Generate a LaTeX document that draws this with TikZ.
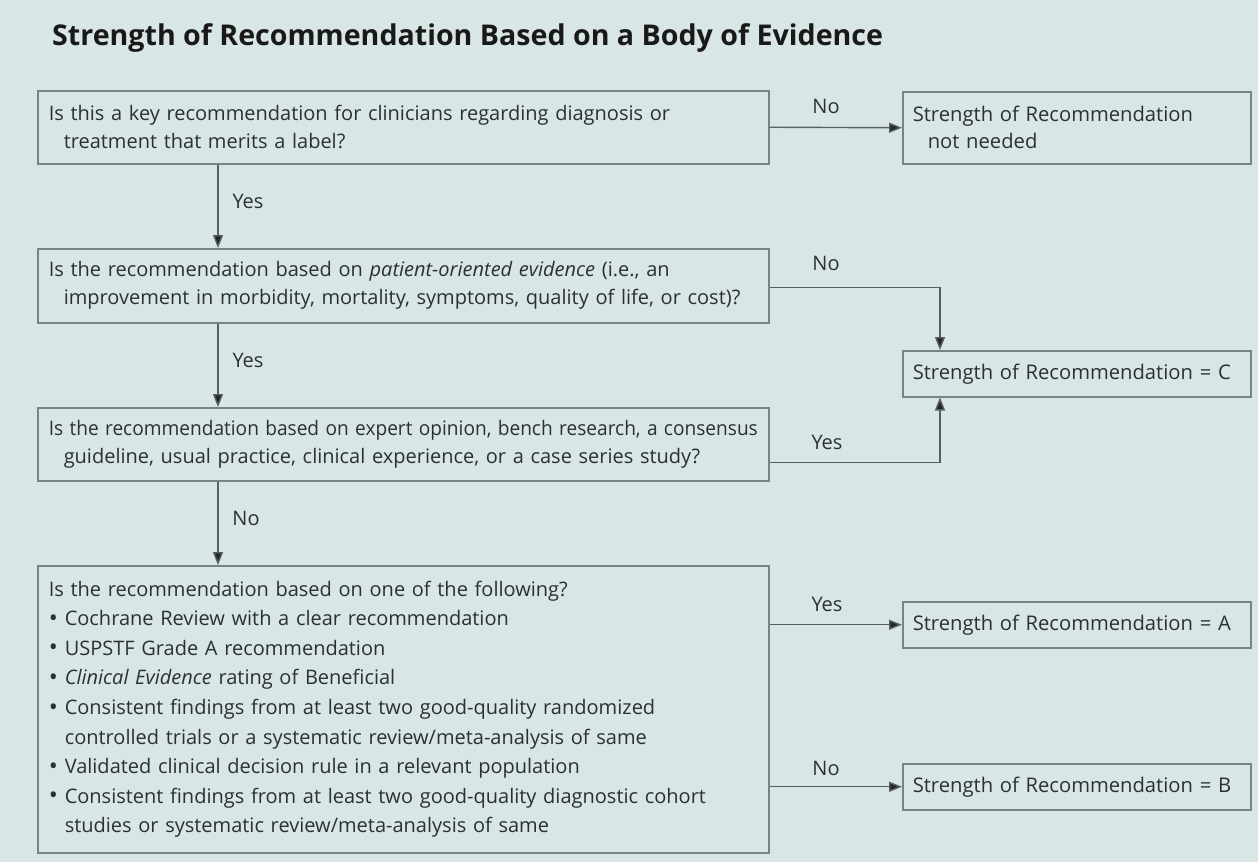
\documentclass[tikz,border=0pt]{standalone}
\usepackage{fontspec}
\usepackage{graphicx}
\setmainfont{Open Sans}
\usetikzlibrary{arrows.meta}
\definecolor{bgc}{HTML}{D9E6E6}
\definecolor{boxc}{HTML}{758485}
\definecolor{linec}{HTML}{56615F}
\definecolor{txtc}{HTML}{2C3031}
\tikzset{
  qbox/.style={draw=boxc, line width=1.5pt, anchor=north west, inner xsep=11pt,
    inner ysep=0pt, align=left, text width=709pt, text=txtc,
    font=\fontsize{20}{28}\selectfont},
  rbox/.style={draw=boxc, line width=1.5pt, anchor=north west, inner xsep=10pt,
    inner ysep=0pt, align=left, text width=328pt, text=txtc,
    font=\fontsize{20.2}{27}\selectfont},
  arr/.style={draw=linec, line width=1.4pt, -{Triangle[length=13pt,width=10pt,fill=black!85]}},
  lab/.style={text=txtc, font=\fontsize{20}{22}\selectfont, inner sep=0pt},
}
\newcommand{\ind}{\hspace*{15pt}}
\newcommand{\bul}{\makebox[16pt][l]{\raisebox{-0.6pt}{\fontsize{24}{0}\selectfont •}}}
\newcommand{\bulind}{\hspace*{16pt}}
\begin{document}
\begin{tikzpicture}[x=1pt,y=-1pt]
\fill[bgc] (0,0) rectangle (1258,862);
\useasboundingbox (0,0) rectangle (1258,862);

\node[anchor=west, text=black!90, inner sep=0pt, font=\fontsize{28.6}{30}\selectfont\bfseries] (title) at (52,38) {Strength of Recommendation Based on a Body of Evidence};

\node[qbox, minimum height=73pt] (b1) at (37,90) {Is this a key recommendation for clinicians regarding diagnosis or\\\ind treatment that merits a label?};
\node[rbox, minimum height=72pt] (nn) at (902,91) {Strength of Recommendation\\\ind not needed};

\node[qbox, minimum height=74pt] (b2) at (37,248) {Is the recommendation based on \textit{patient-oriented evidence} (i.e., an\\\ind \mbox{improvement in morbidity, mortality, symptoms, quality of life, or cost)?}};

\node[rbox, minimum height=46pt] (c) at (902,350) {Strength of Recommendation = C};

\node[qbox, minimum height=73pt] (b3) at (37,407) {\scalebox{0.955}[1]{Is the recommendation based on expert opinion, bench research, a consensus}\\\ind guideline, usual practice, clinical experience, or a case series study?};

\node[qbox, minimum height=287pt, font=\fontsize{20}{29.6}\selectfont] (b4) at (37,565) {Is the recommendation based on one of the following?\\
\bul Cochrane Review with a clear recommendation\\
\bul USPSTF Grade A recommendation\\
\bul \textit{Clinical Evidence} rating of Beneficial\\
\bul Consistent findings from at least two good-quality randomized\\
\bulind controlled trials or a systematic review/meta-analysis of same\\
\bul Validated clinical decision rule in a relevant population\\
\bul Consistent findings from at least two good-quality diagnostic cohort\\
\bulind studies or systematic review/meta-analysis of same};

\node[rbox, minimum height=46pt] (a) at (902,601) {Strength of Recommendation = A};
\node[rbox, minimum height=46pt] (b) at (902,763) {Strength of Recommendation = B};

\coordinate (xd) at (218,0);
\coordinate (xc) at (940,0);

% connectors
\draw[arr] (b1.east) -- (nn.west);
\node[lab] (l1) at (826,106) {No};

\draw[arr] (b1.south -| xd) -- (b2.north -| xd);
\node[lab] (l2) at (248,201) {Yes};

\draw[arr] ([yshift=-1.5pt]b2.east) -| (c.north -| xc);
\node[lab] (l3) at (826,263) {No};

\draw[arr] (b2.south -| xd) -- (b3.north -| xd);
\node[lab] (l4) at (248,360) {Yes};

\draw[arr] ([yshift=-18.5pt]b3.east) -| (c.south -| xc);
\node[lab] (l5) at (827,442) {Yes};

\draw[arr] (b3.south -| xd) -- (b4.north -| xd);
\node[lab] (l6) at (246,518) {No};

\draw[arr] (b4.east |- a.west) -- (a.west);
\node[lab] (l7) at (827,604) {Yes};

\draw[arr] (b4.east |- b.west) -- (b.west);
\node[lab] (l8) at (826,768) {No};
\end{tikzpicture}
\end{document}
